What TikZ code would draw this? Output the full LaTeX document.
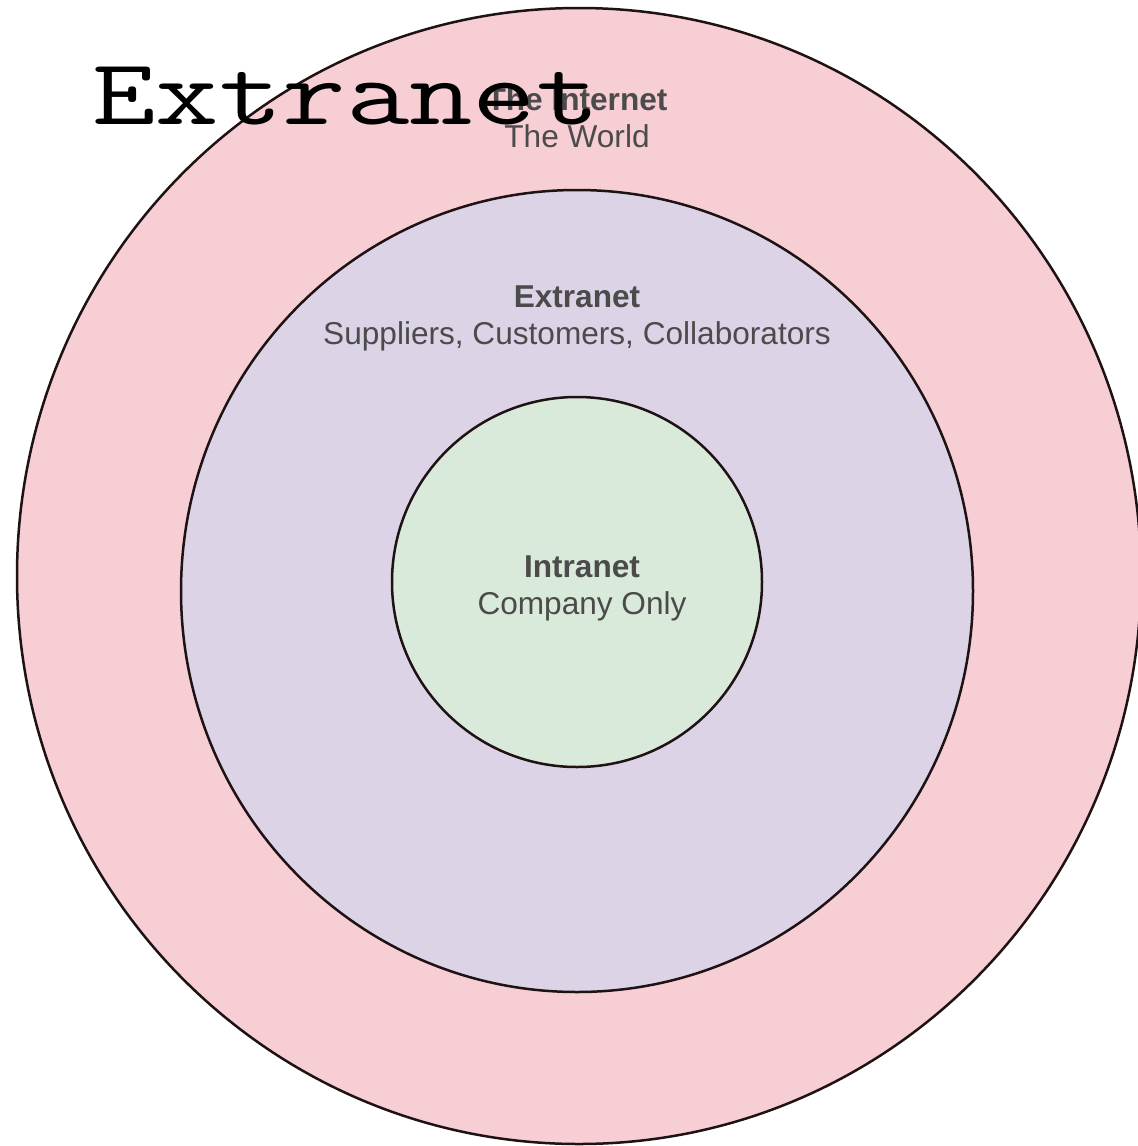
\documentclass[tikz,border=0pt]{standalone}
\usepackage{fontspec}
\setmainfont{Liberation Sans}
\newfontfamily\bigmono[FakeStretch=1.31]{Latin Modern Mono}
\definecolor{worldpink}{RGB}{246,206,211}
\definecolor{extralilac}{RGB}{221,211,231}
\definecolor{intragreen}{RGB}{218,234,218}
\definecolor{ringline}{RGB}{30,18,20}
\definecolor{labelgray}{RGB}{75,75,75}
\begin{document}
\begin{tikzpicture}[x=0.5pt,y=-0.5pt,
    ring/.style={draw=ringline,line width=1.25pt},
    zonelabel/.style={align=center,text=labelgray,font=\fontsize{15.8}{18.5}\selectfont,inner sep=0pt}]
  \useasboundingbox[fill=white] (0,0) rectangle (1138,1146);
  \draw[ring,fill=worldpink] (579,576) ellipse [x radius=281pt,y radius=284pt];
  \draw[ring,fill=extralilac] (577,591) ellipse [x radius=198pt,y radius=200.5pt];
  \draw[ring,fill=intragreen] (577,582) circle [radius=92.5pt];
  \node[zonelabel] (internet) at (577,118) {\textbf{The Internet}\\The World};
  \node[zonelabel] (extranet) at (577,318) {\textbf{Extranet}\\Suppliers, Customers, Collaborators};
  \node[zonelabel] (intranet) at (582,588) {\textbf{Intranet}\\Company Only};
  \node[anchor=base west,inner sep=0pt,font=\bigmono\fontsize{47}{56}\selectfont] (title) at (92,124) {Extranet};
\end{tikzpicture}
\end{document}
